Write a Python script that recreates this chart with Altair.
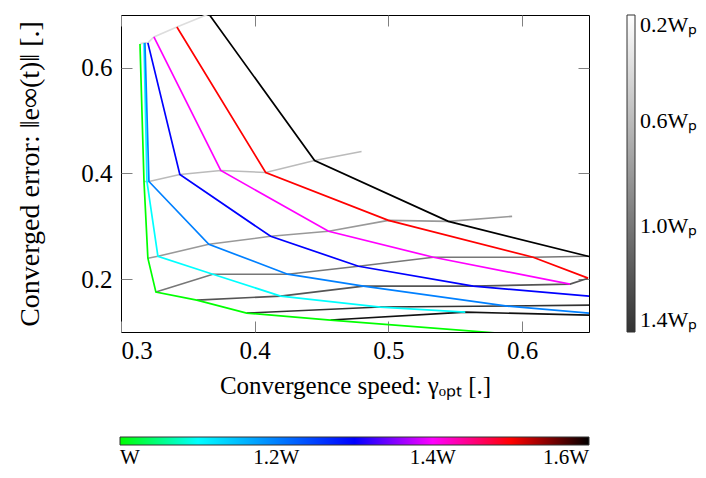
import altair as alt
import pandas as pd

FONT = "Liberation Serif"

# Axis ticks
X_TICKS = [0.3, 0.4, 0.5, 0.6]
Y_TICKS = [0.2, 0.4, 0.6]

# Coloured lines: fixed W, points ordered along the line
W_VALUES = [1.0, 1.1, 1.2, 1.3, 1.4, 1.5, 1.6]
w10_x = [0.3142, 0.3172, 0.3201, 0.3261, 0.3567, 0.3940, 0.4567, 0.6284]
w10_y = [0.6453, 0.3849, 0.2396, 0.1755, 0.1604, 0.1358, 0.1226, 0.0887]
w11_x = [0.3172, 0.3194, 0.3276, 0.3687, 0.4194, 0.4940, 0.5575]
w11_y = [0.6472, 0.3849, 0.2434, 0.2094, 0.1679, 0.1472, 0.1377]
w12_x = [0.3179, 0.3209, 0.3657, 0.4246, 0.4813, 0.5888, 0.6761]
w12_y = [0.6472, 0.3849, 0.2660, 0.2094, 0.1868, 0.1491, 0.1302]
w13_x = [0.3201, 0.3440, 0.4119, 0.4776, 0.5634, 0.7194]
w13_y = [0.6472, 0.3981, 0.2811, 0.2245, 0.1868, 0.1528]
w14_x = [0.3246, 0.3746, 0.4552, 0.5336, 0.6358]
w14_y = [0.6585, 0.4057, 0.2906, 0.2415, 0.1906]
w15_x = [0.3418, 0.4082, 0.5000, 0.6082, 0.6493]
w15_y = [0.6774, 0.4019, 0.3113, 0.2415, 0.2019]
w16_x = [0.3657, 0.4448, 0.5448, 0.6493, 0.6955]
w16_y = [0.7019, 0.4245, 0.3094, 0.2434, 0.2151]
W_COLORS = ["#00ff00", "#00ffff", "#0080ff", "#0000ff", "#ff00ff", "#ff0000", "#000000"]

# Gray lines: fixed Wp
WP_VALUES = [0.4, 0.6, 0.8, 1.0, 1.2, 1.4, 1.6]
wp1_x = [0.3142, 0.3172, 0.3179, 0.3201, 0.3246, 0.3418, 0.3657]
wp1_y = [0.6453, 0.6472, 0.6472, 0.6472, 0.6585, 0.6774, 0.7019]
wp2_x = [0.3172, 0.3194, 0.3209, 0.3440, 0.3746, 0.4082, 0.4448, 0.4799]
wp2_y = [0.3849, 0.3849, 0.3849, 0.3981, 0.4057, 0.4019, 0.4245, 0.4415]
wp3_x = [0.3201, 0.3276, 0.3657, 0.4119, 0.4552, 0.5000, 0.5448, 0.5925]
wp3_y = [0.2396, 0.2434, 0.2660, 0.2811, 0.2906, 0.3113, 0.3094, 0.3189]
wp4_x = [0.3261, 0.3687, 0.4246, 0.4776, 0.5336, 0.6082, 0.6493]
wp4_y = [0.1755, 0.2094, 0.2094, 0.2245, 0.2415, 0.2415, 0.2434]
wp5_x = [0.3567, 0.4194, 0.4813, 0.5634, 0.6358, 0.6493]
wp5_y = [0.1604, 0.1679, 0.1868, 0.1868, 0.1906, 0.2019]
wp6_x = [0.3940, 0.4940, 0.5888, 0.7194]
wp6_y = [0.1358, 0.1472, 0.1491, 0.1528]
wp7_x = [0.4567, 0.5575, 0.6761]
wp7_y = [0.1226, 0.1377, 0.1302]

W_LEGEND_VALUES = [1.0, 1.2, 1.4, 1.6]
WP_LEGEND_VALUES = [0.2, 0.6, 1.0, 1.4]


def build(values, xs, ys, key):
    rows = []
    for v, xl, yl in zip(values, xs, ys):
        for i, (a, b) in enumerate(zip(xl, yl)):
            rows.append({key: v, "i": i, "x": a, "y": b})
    return pd.DataFrame(rows)


color_df = build(W_VALUES,
                 [w10_x, w11_x, w12_x, w13_x, w14_x, w15_x, w16_x],
                 [w10_y, w11_y, w12_y, w13_y, w14_y, w15_y, w16_y], "W")
gray_df = build(WP_VALUES,
                [wp1_x, wp2_x, wp3_x, wp4_x, wp5_x, wp6_x, wp7_x],
                [wp1_y, wp2_y, wp3_y, wp4_y, wp5_y, wp6_y, wp7_y], "Wp")

xs = alt.Scale(domain=[0.3, 0.65], nice=False, zero=False)
ys = alt.Scale(domain=[0.1, 0.7], nice=False, zero=False)

common = dict(labelFont=FONT, labelFontSize=25, labelColor="black",
              titleFont=FONT, titleFontWeight="normal",
              titleColor="black", tickColor="#808080", tickWidth=1,
              tickSize=11, offset=-11, domain=False, grid=False)

gray_layer = alt.Chart(gray_df).mark_line(clip=True, strokeWidth=1.6).encode(
    x=alt.X("x:Q", scale=xs, axis=alt.Axis(orient="bottom", values=X_TICKS, format=".1f",
                                           labelPadding=6, titlePadding=10, titleFontSize=25,
                                           title="Convergence speed: γₒₚₜ [.]", **common)),
    y=alt.Y("y:Q", scale=ys, axis=alt.Axis(orient="left", values=Y_TICKS, format=".1f",
                                           labelPadding=9, titlePadding=36, titleFontSize=28,
                                           title="Converged error: ‖e∞(t)‖ [.]", **common)),
    color=alt.Color("Wp:Q", scale=alt.Scale(domain=[1.4, 0.2], range=["#333333", "#ffffff"],
                                            interpolate="rgb"),
                    legend=alt.Legend(orient="none", legendX=506, legendY=0, direction="vertical",
                                      title=None, gradientLength=317, gradientThickness=8,
                                      gradientStrokeColor="#333333", gradientStrokeWidth=1,
                                      values=WP_LEGEND_VALUES,
                                      labelExpr="format(datum.value, '.1f') + 'Wₚ'",
                                      labelFont=FONT, labelFontSize=22, labelColor="black",
                                      labelOffset=5, labelBaseline="middle", labelOverlap=False,
                                      padding=0)),
    detail="Wp:N",
    order="i:Q",
)

color_layer = alt.Chart(color_df).mark_line(clip=True, strokeWidth=1.7).encode(
    x=alt.X("x:Q", scale=xs, axis=alt.Axis(orient="top", values=X_TICKS, labels=False,
                                           title=None, **common)),
    y=alt.Y("y:Q", scale=ys, axis=alt.Axis(orient="right", values=Y_TICKS, labels=False,
                                           title=None, **common)),
    color=alt.Color("W:Q", scale=alt.Scale(domain=W_VALUES, range=W_COLORS, interpolate="rgb"),
                    legend=alt.Legend(orient="none", legendX=-1, legendY=422, direction="horizontal",
                                      title=None, gradientLength=469, gradientThickness=8,
                                      gradientStrokeColor="#333333", gradientStrokeWidth=1,
                                      values=W_LEGEND_VALUES,
                                      labelExpr="datum.value == 1 ? 'W' : format(datum.value, '.1f') + 'W'",
                                      labelFont=FONT, labelFontSize=21, labelColor="black",
                                      labelOffset=2, labelAlign="center", labelOverlap=False,
                                      padding=0)),
    detail="W:N",
    order="i:Q",
)

chart = alt.layer(gray_layer, color_layer).resolve_scale(
    color="independent"
).resolve_axis(
    x="independent", y="independent"
).resolve_legend(
    color="independent"
).properties(
    width=468, height=317,
    autosize=alt.AutoSizeParams(type="none"),
    padding={"left": 113, "top": 7, "right": 109, "bottom": 138},
).configure_view(stroke="black", strokeWidth=1)

chart.save("out.html", embed_options={"renderer": "svg", "actions": False})
